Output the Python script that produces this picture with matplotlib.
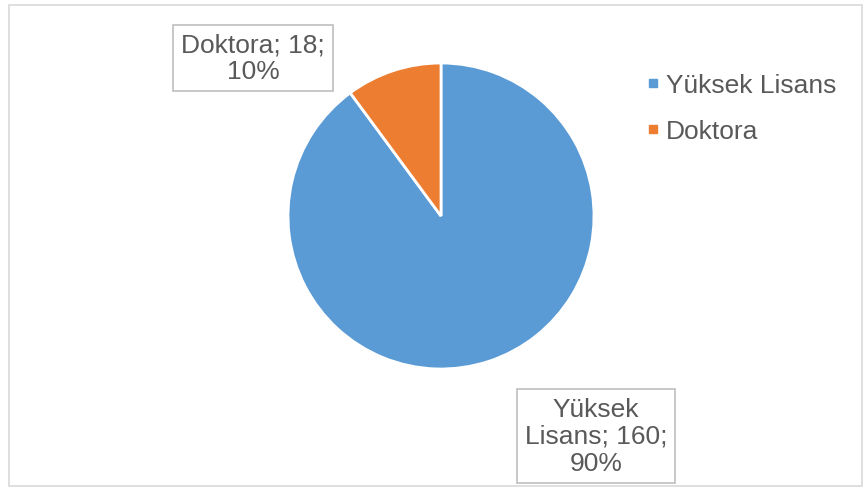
import matplotlib
matplotlib.use("Agg")
import matplotlib.pyplot as plt
from matplotlib.lines import Line2D
from matplotlib.patches import Rectangle

labels = ["Yüksek Lisans", "Doktora"]
values = [160, 18]
colors = ["#5B9BD5", "#ED7D31"]
TXT = "#595959"
FS = 19

W, H = 863, 489
fig = plt.figure(figsize=(W / 100, H / 100), dpi=100)
ax = fig.add_axes([0, 0, 1, 1])
ax.set_xlim(0, W); ax.set_ylim(0, H)
ax.axis("off")
plt.rcParams["font.family"] = ["Liberation Sans", "DejaVu Sans"]

# chart area border
ax.add_patch(Rectangle((9, 2), 853, 481, fill=False, ec="#D9D9D9", lw=1.2))

wedges, _ = ax.pie(values, colors=colors, startangle=90, counterclock=False,
                   center=(441, 272), radius=153,
                   wedgeprops=dict(edgecolor="white", linewidth=2))
ax.set_xlim(0, W); ax.set_ylim(0, H)
ax.set_aspect("auto")

total = sum(values)
pos = {"Doktora": (253, 430), "Yüksek Lisans": (596, 52)}
for name, v in zip(labels, values):
    nm = name.replace(" ", "\n") if len(name) > 10 else name
    s = f"{nm}; {v};\n{100 * v / total:.0f}%"
    ax.text(*pos[name], s, ha="center", va="center", fontsize=FS, color=TXT,
            linespacing=1.15,
            bbox=dict(boxstyle="square,pad=0.3", fc="white", ec="#BFBFBF", lw=1.2))

handles = [Line2D([], [], ls="", marker="s", ms=5.5, color=c) for c in colors]
ax.legend(handles, labels, loc="upper left", bbox_to_anchor=(632 / W, 1 - 61 / H),
          frameon=False, fontsize=FS, labelcolor=TXT, handlelength=0.6,
          handletextpad=0.2, labelspacing=0.84, borderpad=0)

fig.savefig("out.png", dpi=100)
